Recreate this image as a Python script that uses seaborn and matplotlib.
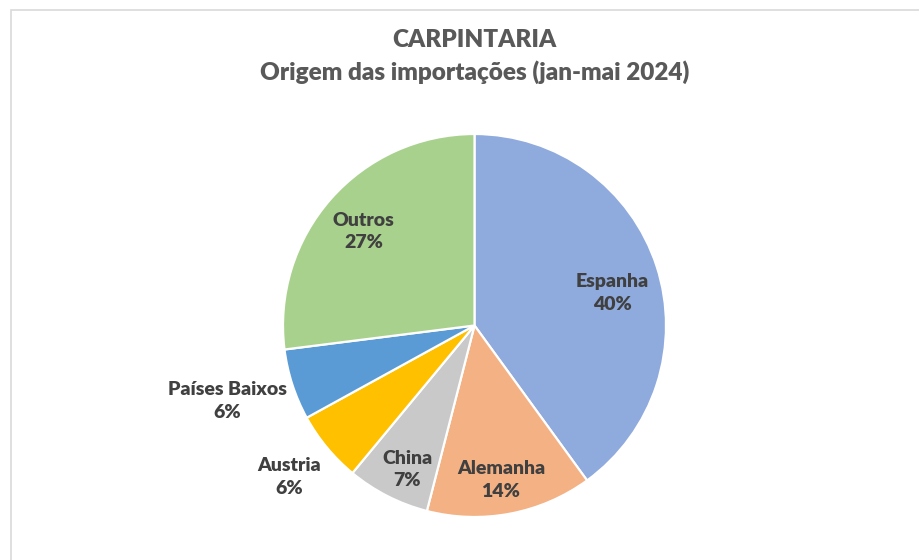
import numpy as np
import matplotlib
matplotlib.use("Agg")
import matplotlib.pyplot as plt
import seaborn as sns
from matplotlib.patches import Rectangle

sns.set_theme(style="white")
plt.rcParams['font.family'] = ['Lato', 'DejaVu Sans']

categories = ["Espanha", "Alemanha", "China", "Austria", "Países Baixos", "Outros"]
values = [40, 14, 7, 6, 6, 27]
pct_labels = ["40%", "14%", "7%", "6%", "6%", "27%"]
colors = ["#8FAADC", "#F4B183", "#C9C9C9", "#FFC000", "#5B9BD5", "#A9D18E"]
label_dist = [0.74, 0.82, 0.83, 1.25, 1.35, 0.76]
label_dang = [-4.7, -1.1, 2.0, -0.4, -1.0, 1.1]
title_lines = ["CARPINTARIA", "Origem das importações (jan-mai 2024)"]

W, H = 919, 560
fig = plt.figure(figsize=(W / 100, H / 100), dpi=100)
ax = fig.add_axes([0, 0, 1, 1])
ax.set_xlim(0, W)
ax.set_ylim(0, H)
ax.axis("off")

cx, cy, R = 474.5, H - 325.5, 191.5
wedges, _ = ax.pie(values, colors=colors, startangle=90, counterclock=False,
                   center=(cx, cy), radius=R,
                   wedgeprops=dict(edgecolor="white", linewidth=1.6))
ax.set_xlim(0, W)
ax.set_ylim(0, H)
ax.set_aspect("equal")

for w, cat, pct, d, da in zip(wedges, categories, pct_labels, label_dist, label_dang):
    ang = np.deg2rad((w.theta1 + w.theta2) / 2 + da)
    x = cx + d * R * np.cos(ang)
    y = cy + d * R * np.sin(ang)
    ax.text(x, y, f"{cat}\n{pct}", ha="center", va="center", fontsize=14,
            fontweight="heavy", color="#404040", linespacing=1.4)

ax.text(cx, H - 40, title_lines[0], ha="center", va="center", fontsize=17.5,
        fontweight="heavy", color="#595959")
ax.text(cx, H - 72, title_lines[1], ha="center", va="center", fontsize=17.5,
        fontweight="heavy", color="#595959")

ax.add_patch(Rectangle((11, -5), W + 10, H - 10 + 5, fill=False,
                       edgecolor="#D9D9D9", linewidth=1.2, clip_on=False))

fig.savefig("out.png", dpi=100)
